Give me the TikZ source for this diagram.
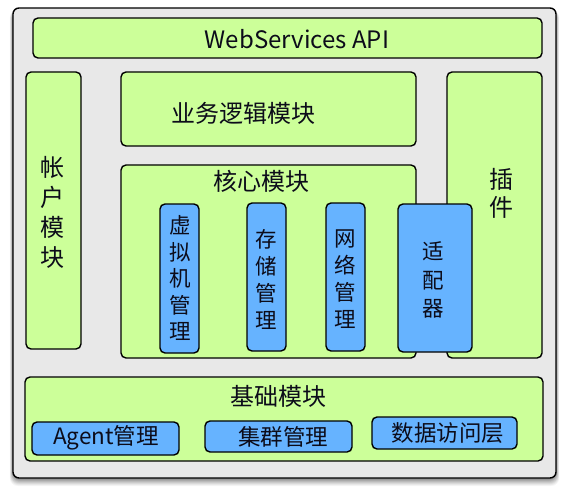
\documentclass[tikz,border=0pt]{standalone}
\usepackage{fontspec}
\setmainfont{Noto Sans CJK SC}
\definecolor{gfill}{HTML}{CCFF99}
\definecolor{bfill}{HTML}{66B3FF}
\definecolor{ofill}{HTML}{E8E8E8}
\definecolor{tcol}{HTML}{0C0C1A}
\tikzset{
  base/.style={draw=black, line width=1.4pt, rounded corners=5pt, anchor=north west, inner sep=0pt, outer sep=0pt},
  gbox/.style={base, fill=gfill},
  bbox/.style={base, fill=bfill},
  obox/.style={base, fill=ofill, rounded corners=6pt},
  lbl/.style={text=tcol, inner sep=0pt, align=center, font=\fontsize{24}{29}\selectfont},
  vlbl/.style={text=tcol, inner sep=0pt, align=center, font=\fontsize{21.5}{27}\selectfont},
  slbl/.style={text=tcol, inner sep=0pt, align=center, font=\fontsize{22.5}{26}\selectfont},
}
\begin{document}
\begin{tikzpicture}[x=1pt,y=-1pt]
\useasboundingbox (0,0) rectangle (569,494);
% shadow
\foreach \i/\o in {8/0.04,7/0.05,6/0.06,5/0.07,4/0.08,3/0.09,2/0.1,1/0.12}{
  \fill[black, opacity=\o, rounded corners=8pt] (13-0.4*\i,10) rectangle (556+0.4*\i,478+\i);
}
\node[obox, minimum width=543pt, minimum height=470pt] (outer) at (13,8) {};
\node[gbox, minimum width=509pt, minimum height=40pt] (api) at (33,18) {};
\node[gbox, minimum width=55pt, minimum height=277pt] (acct) at (26,72) {};
\node[gbox, minimum width=295pt, minimum height=74pt] (biz) at (121,72) {};
\node[gbox, minimum width=295pt, minimum height=193pt] (core) at (121,165) {};
\node[gbox, minimum width=95pt, minimum height=286pt] (plug) at (447,72) {};
\node[bbox, minimum width=39pt, minimum height=149pt] (vm) at (160,204) {};
\node[bbox, minimum width=39pt, minimum height=148pt] (stor) at (247,203) {};
\node[bbox, minimum width=39pt, minimum height=148pt] (net) at (326,203) {};
\node[bbox, minimum width=74pt, minimum height=148pt] (adap) at (398,204) {};
\node[gbox, minimum width=518pt, minimum height=84pt] (basem) at (25,377) {};
\node[bbox, minimum width=147pt, minimum height=33pt] (agent) at (32,422) {};
\node[bbox, minimum width=147pt, minimum height=31pt] (clus) at (205,421) {};
\node[bbox, minimum width=145pt, minimum height=32pt] (data) at (372,417) {};
% labels
\node[lbl] (tapi) at (297,39) {WebServices API};
\node[lbl] (tbiz) at (243,113) {业务逻辑模块};
\node[lbl] (tcore) at (261,181) {核心模块};
\node[lbl, font=\fontsize{24}{30}\selectfont] (tacct) at (52,212) {帐\\户\\模\\块};
\node[lbl, font=\fontsize{24}{28}\selectfont] (tplug) at (501,193) {插\\件};
\node[vlbl, font=\fontsize{21.5}{26.5}\selectfont] (tvm) at (180,278) {虚\\拟\\机\\管\\理};
\node[vlbl] (tstor) at (266.5,279) {存\\储\\管\\理};
\node[vlbl] (tnet) at (345.5,279) {网\\络\\管\\理};
\node[vlbl, font=\fontsize{21.5}{28.5}\selectfont] (tadap) at (433,280) {适\\配\\器};
\node[lbl] (tbase) at (278,396) {基础模块};
\node[slbl] (tagent) at (106,438) {Agent管理};
\node[slbl] (tclus) at (283,437) {集群管理};
\node[slbl] (tdata) at (448,433) {数据访问层};
\end{tikzpicture}
\end{document}
